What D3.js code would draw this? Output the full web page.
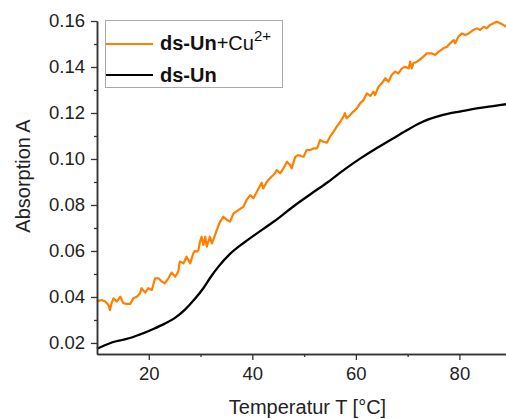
<!DOCTYPE html>
<html><head><meta charset="utf-8">
<script src="https://cdn.jsdelivr.net/npm/d3@7"></script>
<style>
html,body{margin:0;padding:0;background:#fff;}
svg{display:block;font-family:"Liberation Sans",Arial,sans-serif;}
</style></head>
<body>
<svg id="chart" width="506" height="419"></svg>
<script>
// ---- data ----
const blackT = [10, 11.5, 13, 15, 17, 19, 21, 23, 25, 27, 29, 30.5, 32, 33.5, 35.5, 38.5, 42, 45, 48.3, 51.5, 54.7, 57.9, 61.1, 64.4, 67.6, 70, 72, 74, 76.5, 80.5, 84, 86.5, 89];
const blackA = [0.0175, 0.0190, 0.0203, 0.0214, 0.0226, 0.0243, 0.0262, 0.0283, 0.0308, 0.0345, 0.0394, 0.0437, 0.0488, 0.0533, 0.0583, 0.0638, 0.0694, 0.0742, 0.0800, 0.0851, 0.0901, 0.0956, 0.1006, 0.1052, 0.1095, 0.1127, 0.1152, 0.1172, 0.1190, 0.1208, 0.1222, 0.1230, 0.1238];

const orangeT = [10.0, 10.3, 10.9, 11.6, 12.2, 12.5, 12.8, 13.2, 13.8, 14.5, 15.1, 15.7, 16.4, 17.0, 17.7, 18.3, 18.6, 19.3, 19.9, 20.6, 21.2, 21.9, 22.5, 23.1, 23.8, 24.4, 25.1, 25.7, 26.0, 26.7, 27.3, 28.0, 28.6, 28.9, 29.3, 29.6, 29.9, 30.2, 30.55, 30.9, 31.2, 31.8, 32.2, 32.8, 33.5, 33.8, 34.4, 35.1, 35.7, 36.4, 37.3, 38.3, 38.9, 39.6, 40.2, 40.9, 41.2, 41.8, 42.1, 42.8, 43.4, 44.4, 44.7, 45.4, 46.0, 46.7, 47.3, 47.6, 48.3, 48.9, 49.5, 49.9, 50.5, 51.2, 51.8, 52.5, 53.1, 53.7, 54.4, 55.0, 55.7, 56.3, 57.0, 57.6, 57.9, 58.2, 58.9, 59.5, 60.2, 60.8, 61.5, 62.1, 62.8, 63.4, 63.7, 64.4, 65.0, 65.7, 66.3, 66.9, 67.6, 68.2, 68.9, 69.5, 70.2, 70.5, 70.8, 71.1, 71.8, 72.7, 73.7, 74.7, 75.3, 76.0, 76.9, 77.6, 78.2, 78.9, 79.2, 79.8, 80.5, 81.1, 81.8, 82.7, 83.4, 84.0, 84.7, 85.3, 85.9, 86.6, 87.2, 87.9, 88.5, 89.0];
const orangeA = [0.0387, 0.0383, 0.0387, 0.0380, 0.0365, 0.0343, 0.0372, 0.0394, 0.0380, 0.0401, 0.0373, 0.0370, 0.0370, 0.0394, 0.0401, 0.0416, 0.0438, 0.0419, 0.0438, 0.0430, 0.0481, 0.0481, 0.0467, 0.0459, 0.0481, 0.0506, 0.0488, 0.0510, 0.0554, 0.0546, 0.0575, 0.0546, 0.0590, 0.0600, 0.0597, 0.0604, 0.0641, 0.0662, 0.0626, 0.0662, 0.0619, 0.0662, 0.0633, 0.0670, 0.0713, 0.0728, 0.0749, 0.0735, 0.0728, 0.0764, 0.0778, 0.0793, 0.0822, 0.0843, 0.0829, 0.0858, 0.0872, 0.0897, 0.0872, 0.0901, 0.0916, 0.0938, 0.0952, 0.0938, 0.0959, 0.0988, 0.0974, 0.0959, 0.1010, 0.1017, 0.1012, 0.1010, 0.1039, 0.1039, 0.1046, 0.1046, 0.1083, 0.1075, 0.1071, 0.1097, 0.1119, 0.1141, 0.1162, 0.1184, 0.1199, 0.1177, 0.1191, 0.1206, 0.1220, 0.1242, 0.1257, 0.1285, 0.1274, 0.1293, 0.1278, 0.1315, 0.1329, 0.1351, 0.1336, 0.1365, 0.1380, 0.1372, 0.1394, 0.1401, 0.1394, 0.1423, 0.1394, 0.1416, 0.1423, 0.1438, 0.1459, 0.1459, 0.1452, 0.1467, 0.1481, 0.1488, 0.1503, 0.1517, 0.1503, 0.1532, 0.1546, 0.1539, 0.1546, 0.1561, 0.1568, 0.1561, 0.1575, 0.1568, 0.1583, 0.1590, 0.1597, 0.1590, 0.1583, 0.1575];

const xMajorTicks = [20, 40, 60, 80];
const xMinorTicks = [30, 50, 70];
const yMajorTicks = [0.02, 0.04, 0.06, 0.08, 0.10, 0.12, 0.14, 0.16];
const yMinorTicks = [0.03, 0.05, 0.07, 0.09, 0.11, 0.13, 0.15];
const xTitle = "Temperatur T [°C]";
const yTitle = "Absorption A";
const seriesNames = ["ds-Un", "ds-Un"];

// ---- layout ----
const svg = d3.select("#chart");
const L = 97, R = 506, T = 21, B = 354;
const x = d3.scaleLinear().domain([10, 89]).range([L, R]);
const y = d3.scaleLinear().domain([0.0152, 0.16]).range([B, T]);
const axisColor = "#333";
const tickFont = 18.5;

// lines
const line = d3.line().x(d => x(d[0])).y(d => y(d[1]));
const orangeData = orangeT.map((t, i) => [t, orangeA[i]]);
const blackData = blackT.map((t, i) => [t, blackA[i]]);

svg.append("path").datum(orangeData)
  .attr("d", line).attr("fill", "none")
  .attr("stroke", "#ff8000").attr("stroke-width", 2.2).attr("stroke-linejoin", "round");
svg.append("path").datum(blackData)
  .attr("d", d3.line().x(d => x(d[0])).y(d => y(d[1])).curve(d3.curveMonotoneX)).attr("fill", "none")
  .attr("stroke", "#000").attr("stroke-width", 2.3).attr("stroke-linejoin", "round");

// axes
svg.append("g").attr("transform", `translate(0,${B})`)
  .call(d3.axisBottom(x).tickValues(xMajorTicks).tickSize(6).tickPadding(7).tickSizeOuter(0).tickFormat(d3.format("d")));
svg.append("g").attr("transform", `translate(0,${B})`)
  .call(d3.axisBottom(x).tickValues(xMinorTicks).tickSize(3).tickSizeOuter(0).tickFormat(""));
svg.append("g").attr("transform", `translate(${L},0)`)
  .call(d3.axisLeft(y).tickValues(yMajorTicks).tickSize(6).tickPadding(6).tickSizeOuter(0).tickFormat(d3.format(".2f")));
svg.append("g").attr("transform", `translate(${L},0)`)
  .call(d3.axisLeft(y).tickValues(yMinorTicks).tickSize(3).tickSizeOuter(0).tickFormat(""));

svg.selectAll(".domain").attr("stroke", axisColor).attr("stroke-width", 1.5);
svg.selectAll(".tick line").attr("stroke", axisColor).attr("stroke-width", 1.3);
svg.selectAll(".tick text").attr("fill", "#222").style("font-size", tickFont + "px")
  .style("font-family", "'Liberation Sans', Arial, sans-serif");

// axis titles
svg.append("text").attr("x", 307.5).attr("y", 413.5).attr("text-anchor", "middle")
  .style("font-size", "20px").attr("fill", "#222").text(xTitle);
svg.append("text").attr("transform", "translate(30,176) rotate(-90)").attr("text-anchor", "middle")
  .style("font-size", "20px").attr("fill", "#222").text(yTitle);

// legend
const lg = svg.append("g");
lg.append("rect").attr("x", 105.5).attr("y", 20.5).attr("width", 177).attr("height", 67)
  .attr("fill", "#fff").attr("stroke", "#aaa").attr("stroke-width", 1);
lg.append("line").attr("x1", 106).attr("x2", 153).attr("y1", 44).attr("y2", 44)
  .attr("stroke", "#ff8000").attr("stroke-width", 2);
lg.append("line").attr("x1", 106).attr("x2", 153).attr("y1", 75).attr("y2", 75)
  .attr("stroke", "#000").attr("stroke-width", 2);
const t1 = lg.append("text").attr("x", 160).attr("y", 50).style("font-size", "20px").attr("fill", "#111");
t1.append("tspan").style("font-weight", "bold").text(seriesNames[0]);
t1.append("tspan").text("+Cu");
t1.append("tspan").attr("dy", -9).style("font-size", "15px").text("2+");
lg.append("text").attr("x", 160).attr("y", 81.5).style("font-size", "20px").style("font-weight", "bold")
  .attr("fill", "#111").text(seriesNames[1]);
</script>
</body></html>
